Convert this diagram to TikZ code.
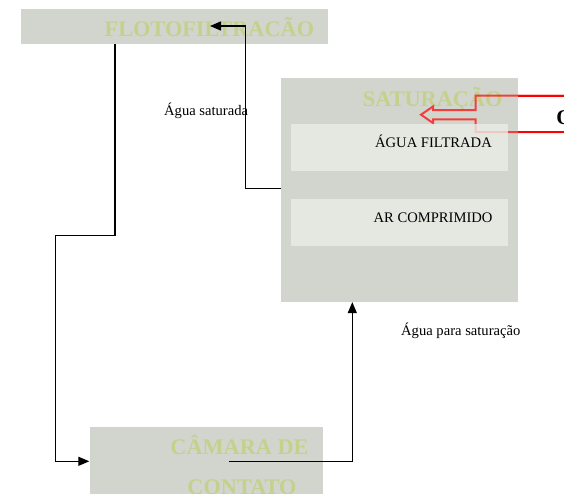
\documentclass[tikz,border=0pt]{standalone}
\usepackage{fontspec}
\setmainfont{Liberation Serif}
\usetikzlibrary{arrows.meta}
\definecolor{boxgray}{RGB}{210,213,205}
\definecolor{innergray}{RGB}{234,236,231}
\definecolor{titlegreen}{RGB}{196,209,140}
\definecolor{calloutred}{RGB}{255,0,0}
\tikzset{
  graybox/.style={draw=none, fill=boxgray, anchor=north west, inner sep=0pt},
  innerbox/.style={draw=none, fill=innergray, fill opacity=0.8, anchor=north west, inner sep=0pt},
  titletext/.style={text=titlegreen, font=\fontsize{22.3}{26}\selectfont\bfseries, inner sep=0pt},
  bodytext/.style={text=black, font=\fontsize{14.6}{17}\selectfont, inner sep=0pt},
  arr/.style={draw=black, line width=1.3pt, -{Triangle[length=11pt,width=9pt]}},
  callout/.style={draw=calloutred, line width=2pt, draw opacity=0.7, line join=miter},
}
\begin{document}
\begin{tikzpicture}[x=1pt, y=-1pt]
\useasboundingbox (0,0) rectangle (564,493);
\clip (0,0) rectangle (564,493);
% boxes
\node[graybox, minimum width=306.7pt, minimum height=34.7pt] (flot) at (21,9) {};
\node[graybox, minimum width=237pt, minimum height=224.4pt] (sat) at (281,77.3) {};
\node[graybox, minimum width=233.4pt, minimum height=100pt] (cam) at (89.3,426.7) {};
% titles
\node[titletext, anchor=base east] (flott) at (314.3,36.7) {FLOTOFILTRACÃO};
\node[titletext, anchor=base east] (satt) at (502.7,106) {SATURAÇÃO};
\node[titletext, anchor=base] (camt1) at (239.5,454.3) {CÂMARA DE};
\node[titletext, anchor=base] (camt2) at (242,494) {CONTATO};
% red callout
\coordinate (rc1) at (564,95.5);
\coordinate (rc2) at (564,132);
\draw[callout] (rc1) -- (475.5,95.5) -- (475.5,110) -- (433,110) -- (433,106.5)
  -- (421,114.7) -- (433,123) -- (433,119.3) -- (475.5,119.3) -- (475.5,132) -- (rc2);
\draw[draw=calloutred, line width=2pt] (sat.north east |- rc1) -- (rc1);
\draw[draw=calloutred, line width=2pt] (sat.north east |- rc2) -- (rc2);
\node[font=\fontsize{21}{24}\selectfont\bfseries, anchor=base west, inner sep=0pt] (cut) at (556.2,124.3) {O};
% inner boxes
\node[innerbox, minimum width=216.7pt, minimum height=46.7pt] (af) at (291,124) {};
\node[innerbox, minimum width=216.7pt, minimum height=46.7pt] (ar) at (291,199) {};
\node[bodytext, anchor=base east] (aft) at (492,147.7) {ÁGUA FILTRADA};
\node[bodytext, anchor=base east] (art) at (492.7,222) {AR COMPRIMIDO};
% labels
\node[bodytext, anchor=base west] (lbl1) at (164,115) {Água saturada};
\node[bodytext, anchor=base west] (lbl2) at (401,335) {Água para saturação};
% connectors
\coordinate (j0) at (115,235.3);
\coordinate (j1) at (55.5,235.3);
\coordinate (camin) at (229.3,461.3);
\draw[arr] (flot.south -| j0) -- (j0) -- (j1) |- (cam.west |- camin);
\coordinate (k0) at (245.5,188.5);
\coordinate (k1) at (245.5,26);
\coordinate (ktip) at (210,26);
\draw[arr] (sat.west |- k0) -- (k0) -- (k1) -- (ktip);
\coordinate (m0) at (352.3,461.3);
\draw[arr] (camin) -- (m0) -- (sat.south -| m0);
\end{tikzpicture}
\end{document}
